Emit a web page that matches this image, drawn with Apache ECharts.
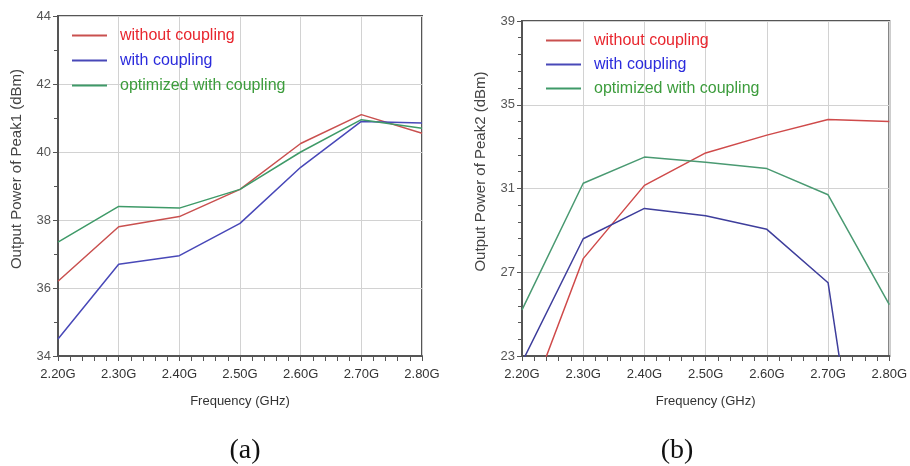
<!DOCTYPE html>
<html>
<head>
<meta charset="utf-8">
<title>Output power of Peak1 / Peak2</title>
<script src="https://cdn.jsdelivr.net/npm/echarts@6/dist/echarts.min.js"></script>
<style>
  html, body { margin: 0; padding: 0; background: #fff; }
  #chart { width: 910px; height: 466px; }
</style>
</head>
<body>
<div id="chart"></div>
<script>
// frequency points (GHz)
var freq = [2.2, 2.3, 2.4, 2.5, 2.6, 2.7, 2.8]

// (a) Peak1 output power, dBm
var peak1Without = [36.2, 37.8, 38.1, 38.9, 40.25, 41.1, 40.55]
var peak1With = [34.5, 36.7, 36.95, 37.9, 39.55, 40.9, 40.85]
var peak1Optimized = [37.35, 38.4, 38.35, 38.9, 40.0, 40.95, 40.7]

// (b) Peak2 output power, dBm (points outside the axis range get clipped)
var peak2Without = [19.9, 27.65, 31.15, 32.7, 33.55, 34.3, 34.2]
var peak2With = [22.7, 28.6, 30.05, 29.7, 29.05, 26.5, 7.1]
var peak2Optimized = [25.2, 31.25, 32.5, 32.25, 31.95, 30.7, 25.45]

var seriesNames = ['without coupling', 'with coupling', 'optimized with coupling']
var panelLabels = ['(a)', '(b)']

var font = 'Arial, "Liberation Sans", sans-serif'
var textColors = ['#e8262e', '#2b2bdc', '#3c9c3c']

function pairs(ys) {
  return freq.map(function (f, i) { return [f, ys[i]] })
}

function xAxis(gridIndex) {
  return {
    type: 'value',
    gridIndex: gridIndex,
    min: 2.2,
    max: 2.8,
    interval: 0.1,
    name: 'Frequency (GHz)',
    nameLocation: 'middle',
    nameGap: 39,
    nameTextStyle: { fontFamily: font, fontSize: 13, color: '#333' },
    axisLine: { lineStyle: { color: '#555', width: 2 } },
    axisTick: { inside: false, length: 5, lineStyle: { color: '#555' } },
    minorTick: { show: true, splitNumber: 5, length: 5, lineStyle: { color: '#555' } },
    axisLabel: {
      fontFamily: font, fontSize: 13, color: '#333', margin: 12,
      formatter: function (v) { return v.toFixed(2) + 'G' }
    },
    splitLine: { show: true, lineStyle: { color: '#d2d2d2', width: 1 } }
  }
}

function yAxis(gridIndex, min, max, interval, minorSplit, name) {
  return {
    type: 'value',
    gridIndex: gridIndex,
    min: min,
    max: max,
    interval: interval,
    name: name,
    nameLocation: 'middle',
    nameGap: 34,
    nameTextStyle: { fontFamily: font, fontSize: 15, color: '#444', padding: [0, 0, 0, 34] },
    axisLine: { show: true, lineStyle: { color: '#555', width: 2 } },
    axisTick: { show: true, length: 5, lineStyle: { color: '#555' } },
    minorTick: { show: true, splitNumber: minorSplit, length: 4, lineStyle: { color: '#555' } },
    axisLabel: { fontFamily: font, fontSize: 13, color: '#555', margin: 7 },
    splitLine: { show: true, lineStyle: { color: '#d2d2d2', width: 1 } }
  }
}

function legend(left, top, gap) {
  return {
    orient: 'vertical',
    left: left,
    top: top,
    padding: 0,
    itemWidth: 35,
    itemHeight: 2,
    itemGap: gap,
    icon: 'rect',
    data: seriesNames.map(function (n, i) {
      return { name: n, textStyle: { color: textColors[i] } }
    }),
    textStyle: { fontFamily: font, fontSize: 16, lineHeight: 17, padding: [0, 0, 0, 8] }
  }
}

function line(name, idx, ys, color) {
  return {
    name: name,
    type: 'line',
    xAxisIndex: idx,
    yAxisIndex: idx,
    data: pairs(ys),
    symbol: 'none',
    clip: true,
    lineStyle: { color: color, width: 1.5 },
    itemStyle: { color: color }
  }
}

var chart = echarts.init(document.getElementById('chart'), null, { renderer: 'canvas' })

chart.setOption({
  animation: false,
  backgroundColor: '#fff',
  grid: [
    { left: 58, top: 16, width: 364, height: 340, show: true, borderColor: '#555', borderWidth: 2 },
    { left: 522, top: 21, width: 372, height: 335, show: true, borderColor: '#555', borderWidth: 2 }
  ],
  legend: [legend(72, 27, 8), legend(546, 32, 7)],
  xAxis: [xAxis(0), xAxis(1)],
  yAxis: [
    yAxis(0, 34, 44, 2, 2, 'Output Power of Peak1 (dBm)'),
    yAxis(1, 23, 39, 4, 5, 'Output Power of Peak2 (dBm)')
  ],
  graphic: panelLabels.map(function (t, i) {
    return {
      type: 'text',
      x: i === 0 ? 245 : 677,
      y: 451,
      style: {
        text: t,
        font: '28px "Liberation Serif", "DejaVu Serif", serif',
        fill: '#111',
        align: 'center',
        verticalAlign: 'middle'
      }
    }
  }),
  series: [
    line(seriesNames[0], 0, peak1Without, '#c9504f'),
    line(seriesNames[1], 0, peak1With, '#4848b8'),
    line(seriesNames[2], 0, peak1Optimized, '#3f9a68'),
    line(seriesNames[0], 1, peak2Without, '#cf4a4a'),
    line(seriesNames[1], 1, peak2With, '#3e3e9c'),
    line(seriesNames[2], 1, peak2Optimized, '#4a9a72')
  ]
})
</script>
</body>
</html>
